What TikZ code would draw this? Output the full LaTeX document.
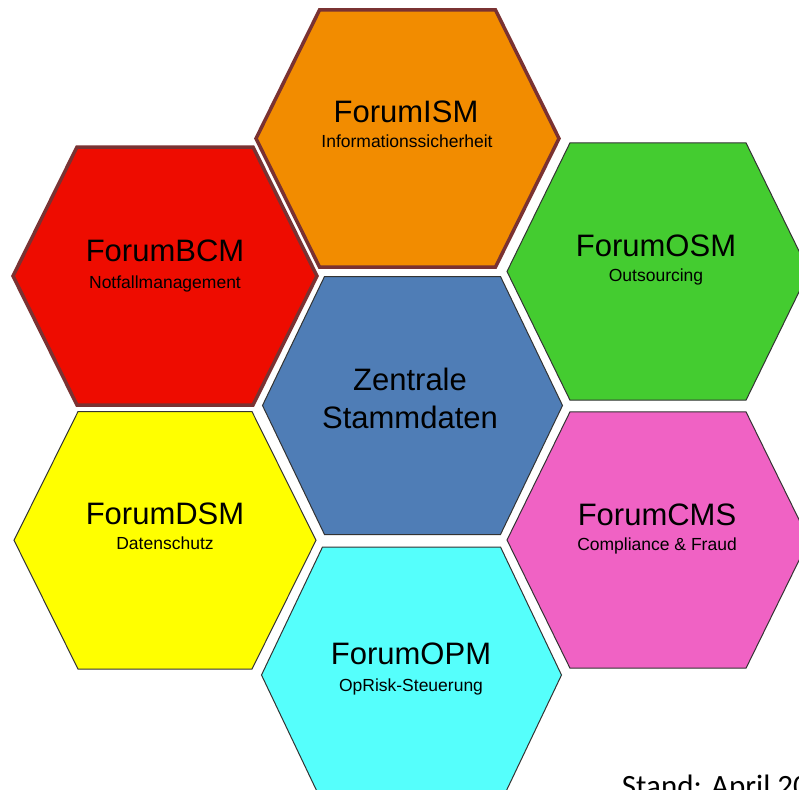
\documentclass[tikz,border=0pt]{standalone}
\usepackage{fontspec}
\setmainfont{Liberation Sans}
\newfontfamily\calibrifont{Carlito}
\definecolor{hexborder}{HTML}{7A3232}
\definecolor{thinborder}{HTML}{333333}
\definecolor{cISM}{HTML}{F28C00}
\definecolor{cBCM}{HTML}{EE0C00}
\definecolor{cOSM}{HTML}{44CC30}
\definecolor{cZS}{HTML}{4F7DB6}
\definecolor{cDSM}{HTML}{FFFF00}
\definecolor{cCMS}{HTML}{F062C4}
\definecolor{cOPM}{HTML}{55FFFC}
\tikzset{
  hexthick/.style={draw=hexborder, line width=3.5pt, line join=miter},
  hexthin/.style={draw=thinborder, line width=1pt, line join=miter},
  titletext/.style={anchor=base, inner sep=0pt, font=\fontsize{31}{37}\selectfont},
  subtext/.style={anchor=base, inner sep=0pt, font=\fontsize{17.5}{21}\selectfont},
  standtext/.style={anchor=base west, inner sep=0pt, font=\calibrifont\fontsize{31}{37}\selectfont},
}
% #1 style, #2 cx, #3 cy (pixels from top), #4 half width, #5 half top edge, #6 half height, #7 name
\newcommand\myhex[7]{%
  \coordinate (#7) at (#2,-#3);
  \path[#1] ({#2-#4},{-#3}) -- ({#2-#5},{-#3+#6}) -- ({#2+#5},{-#3+#6})
    -- ({#2+#4},{-#3}) -- ({#2+#5},{-#3-#6}) -- ({#2-#5},{-#3-#6}) -- cycle;
}
\begin{document}
\begin{tikzpicture}[x=1pt,y=1pt]
\useasboundingbox (0,0) rectangle (799,-789);
\clip (0,0) rectangle (799,-789);
\fill[white] (0,0) rectangle (799,-789);

% hexagons
\myhex{hexthick, fill=cISM}{407.5}{138.5}{151.5}{88}{128.5}{ism}
\myhex{hexthick, fill=cBCM}{165}{276}{152}{88}{129}{bcm}
\myhex{hexthin, fill=cOSM}{658}{271.5}{151}{88}{128.7}{osm}
\myhex{hexthin, fill=cZS}{412.5}{405.5}{150}{88}{129}{zs}
\myhex{hexthin, fill=cDSM}{165}{540.3}{151}{87}{128.7}{dsm}
\myhex{hexthin, fill=cCMS}{658}{540}{151}{88}{128.2}{cms}
\myhex{hexthin, fill=cOPM}{411.5}{675}{150}{89}{128}{opm}

% texts
\node[titletext] (ismT) at (406,-122.7) {ForumISM};
\node[subtext]   (ismS) at (407,-147.7) {Informationssicherheit};

\node[titletext] (bcmT) at (165,-261.7) {ForumBCM};
\node[subtext]   (bcmS) at (165,-288.3) {Notfallmanagement};

\node[titletext] (osmT) at (656,-256) {ForumOSM};
\node[subtext]   (osmS) at (656,-281.7) {Outsourcing};

\node[titletext] (zsT1) at (410,-390) {Zentrale};
\node[titletext] (zsT2) at (410,-428.3) {Stammdaten};

\node[titletext] (dsmT) at (165,-524.3) {ForumDSM};
\node[subtext]   (dsmS) at (165,-549) {Datenschutz};

\node[titletext] (cmsT) at (657,-525) {ForumCMS};
\node[subtext]   (cmsS) at (657,-550.7) {Compliance \& Fraud};

\node[titletext] (opmT) at (411,-664) {ForumOPM};
\node[subtext]   (opmS) at (411,-691.8) {OpRisk-Steuerung};

\node[standtext] (stand) at (621.7,-796) {Stand: April 2020};
\end{tikzpicture}
\end{document}
